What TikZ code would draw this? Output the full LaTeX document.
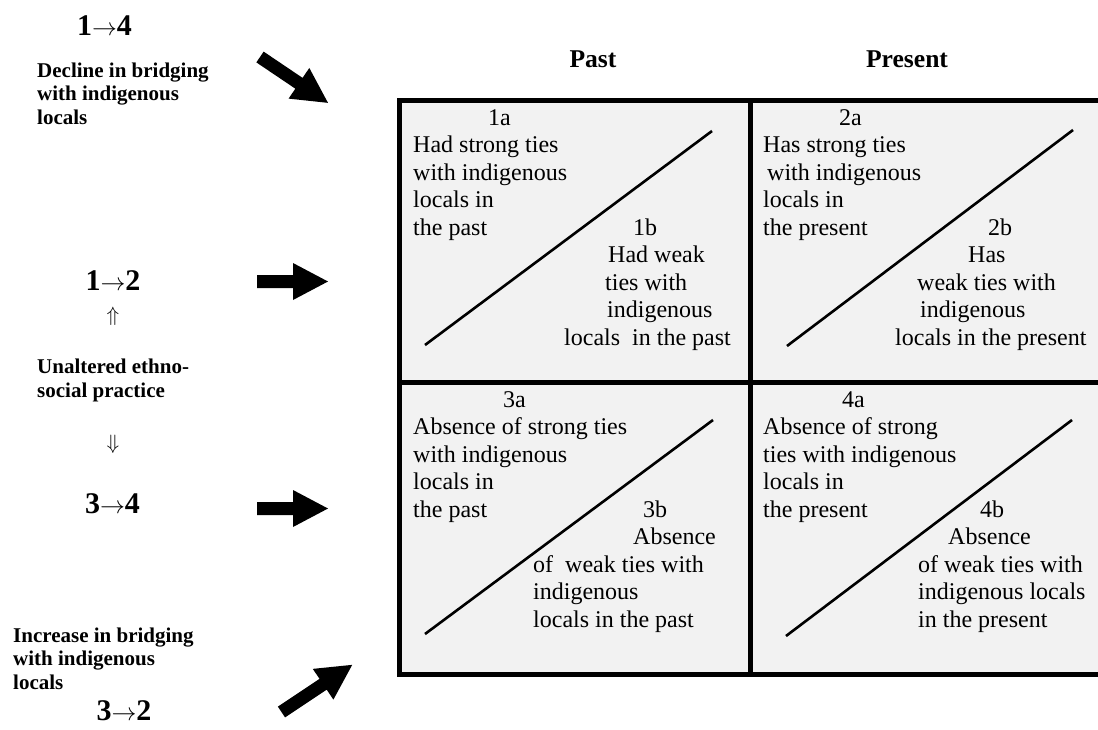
\documentclass[tikz,border=0pt]{standalone}
\usepackage{fontspec}
\setmainfont{Liberation Serif}
\definecolor{cellgrey}{HTML}{F2F2F2}

% one line of text set on its baseline
\newcommand\cellline[4]{\node[celltext] (#1) at (#2,#3) {#4};}
\newcommand\sideline[4]{\node[sidetext] (#1) at (#2,#3) {#4};}

\tikzset{
  cell/.style={draw=black, line width=5pt, fill=cellgrey, inner sep=0pt},
  diagline/.style={line width=2.6pt, line cap=butt},
  celltext/.style={anchor=base west, inner sep=0pt, font=\fontsize{24}{27.6}\selectfont},
  sidetext/.style={anchor=base west, inner sep=0pt, font=\bfseries\fontsize{21}{23.4}\selectfont},
  flowlabel/.style={anchor=base, inner sep=0pt, font=\bfseries\fontsize{30}{34}\selectfont},
  colhead/.style={anchor=base, inner sep=0pt, font=\bfseries\fontsize{25.6}{30}\selectfont},
  dblarrow/.style={inner sep=0pt, font=\fontsize{22}{26}\selectfont},
  blockarrow/.pic={
    \fill[black] (0,-6.5) -- (#1-35,-6.5) -- (#1-35,-18.5) -- (#1,0)
      -- (#1-35,18.5) -- (#1-35,6.5) -- (0,6.5) -- cycle;
  }
}

\begin{document}
\begin{tikzpicture}[x=1pt, y=-1pt]
\useasboundingbox (0,0) rectangle (1098,729);

% --- the four cells ---
\node[cell, minimum width=350.5pt, minimum height=282pt] (c1) at (574.75,241) {};
\node[cell, minimum width=352pt,   minimum height=282pt] (c2) at (926,241) {};
\node[cell, minimum width=350.5pt, minimum height=292pt] (c3) at (574.75,528) {};
\node[cell, minimum width=352pt,   minimum height=292pt] (c4) at (926,528) {};

% --- diagonals ---
\draw[diagline] (425,345) -- (712,131);
\draw[diagline] (787,346) -- (1073,130);
\draw[diagline] (425,634) -- (713,420);
\draw[diagline] (786,636) -- (1072,420);

% --- column heads ---
\node[colhead] (hpast) at (593,67) {Past};
\node[colhead] (hpresent) at (907,67) {Present};

% --- cell 1 ---
\cellline{t1a}{488}{125}{1a}
\cellline{t1a1}{413}{152.5}{Had strong ties}
\cellline{t1a2}{413}{180}{with indigenous}
\cellline{t1a3}{413}{207.5}{locals in}
\cellline{t1a4}{413}{235}{the past}
\cellline{t1b}{633}{235}{1b}
\cellline{t1b1}{608}{262.5}{Had weak}
\cellline{t1b2}{605}{290}{ties with}
\cellline{t1b3}{607}{317.5}{indigenous}
\cellline{t1b4}{564}{345}{locals\ \ in the past}

% --- cell 2 ---
\cellline{t2a}{839}{125}{2a}
\cellline{t2a1}{763}{152.5}{Has strong ties}
\cellline{t2a2}{767}{180}{with indigenous}
\cellline{t2a3}{763}{207.5}{locals in}
\cellline{t2a4}{763}{235}{the present}
\cellline{t2b}{988}{235}{2b}
\cellline{t2b1}{968}{262.5}{Has}
\cellline{t2b2}{917}{290}{weak ties with}
\cellline{t2b3}{920}{317.5}{indigenous}
\cellline{t2b4}{895}{345}{locals in the present}

% --- cell 3 ---
\cellline{t3a}{503}{407}{3a}
\cellline{t3a1}{413}{434.5}{Absence of strong ties}
\cellline{t3a2}{413}{462}{with indigenous}
\cellline{t3a3}{413}{489.5}{locals in}
\cellline{t3a4}{413}{517}{the past}
\cellline{t3b}{643}{517}{3b}
\cellline{t3b1}{633}{544.5}{Absence}
\cellline{t3b2}{533}{572}{of\ \ weak ties with}
\cellline{t3b3}{533}{599.5}{indigenous}
\cellline{t3b4}{533}{627}{locals in the past}

% --- cell 4 ---
\cellline{t4a}{842}{407}{4a}
\cellline{t4a1}{763}{434.5}{Absence of strong}
\cellline{t4a2}{763}{462}{ties with indigenous}
\cellline{t4a3}{763}{489.5}{locals in}
\cellline{t4a4}{763}{517}{the present}
\cellline{t4b}{980}{517}{4b}
\cellline{t4b1}{948}{544.5}{Absence}
\cellline{t4b2}{918}{572}{of weak ties with}
\cellline{t4b3}{918}{599.5}{indigenous locals}
\cellline{t4b4}{918}{627}{in the present}

% --- left column: transitions ---
\node[flowlabel] (f14) at (104.5,35) {1$\rightarrow$4};
\sideline{d1}{37}{77}{Decline in bridging}
\sideline{d2}{37}{100.5}{with indigenous}
\sideline{d3}{37}{124}{locals}

\node[flowlabel] (f12) at (113,290) {1$\rightarrow$2};
\node[dblarrow] (up) at (113,316) {$\Uparrow$};
\sideline{u1}{37}{373}{Unaltered ethno-}
\sideline{u2}{37}{397}{social practice}
\node[dblarrow] (down) at (113,444) {$\Downarrow$};
\node[flowlabel] (f34) at (112.5,513) {3$\rightarrow$4};

\sideline{i1}{13}{642}{Increase in bridging}
\sideline{i2}{13}{665}{with indigenous}
\sideline{i3}{13}{689}{locals}
\node[flowlabel] (f32) at (124,720) {3$\rightarrow$2};

% --- block arrows ---
\pic[rotate=-34] at (260,57) {blockarrow=82};
\pic at (257,281.5) {blockarrow=71};
\pic at (257,508.5) {blockarrow=71};
\pic[rotate=33.7] at (281.5,712) {blockarrow=85};
\end{tikzpicture}
\end{document}
